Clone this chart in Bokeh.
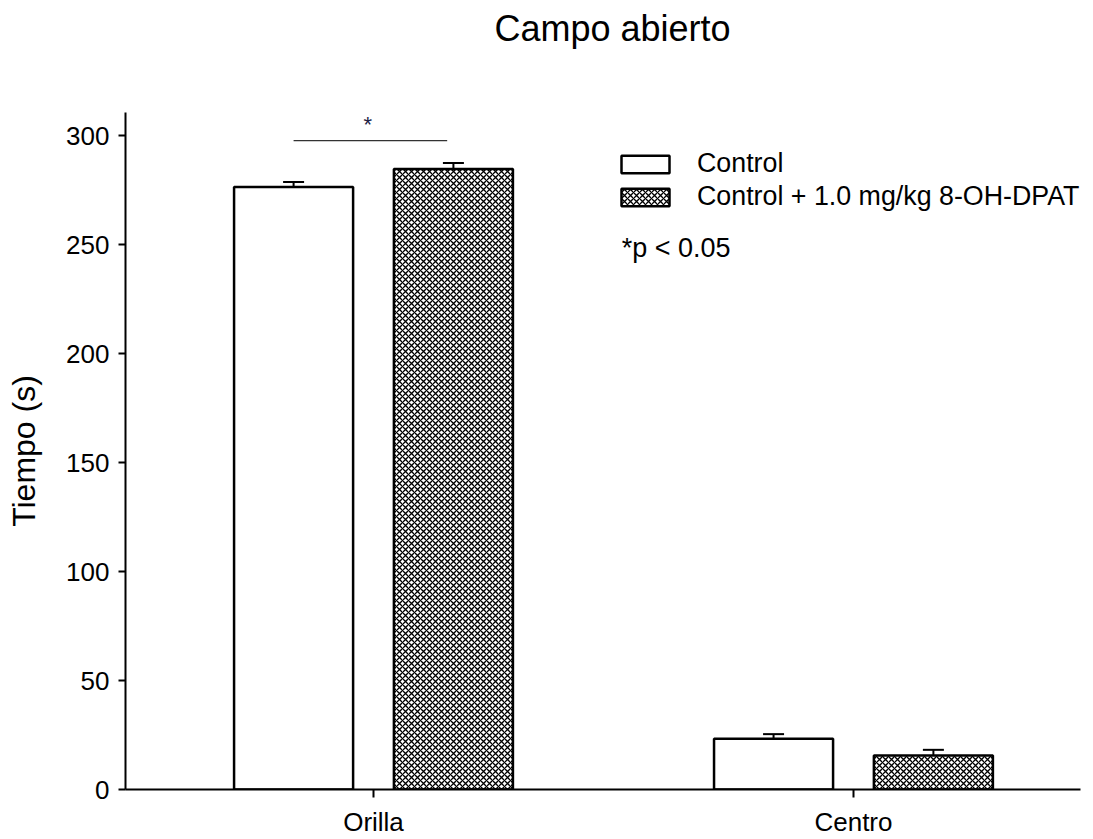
from bokeh.plotting import figure
from bokeh.models import (Range1d, FixedTicker, ColumnDataSource, Whisker, TeeHead,
                          Legend, LegendItem, Label, Title)
from bokeh.embed import file_html
from bokeh.resources import INLINE
from bokeh.core.properties import value

# ---- data ----
categories = ["Orilla", "Centro"]
control = [276.4, 23.3]
control_err = [2.3, 2.1]
treated = [284.7, 15.6]
treated_err = [2.7, 2.6]
series_names = ["Control", "Control + 1.0 mg/kg 8-OH-DPAT"]
y_ticks = [0, 50, 100, 150, 200, 250, 300]
sig_label = "*p < 0.05"
sig_y = 297.7

FONT = "Liberation Sans"
idx = list(range(len(categories)))
off = 0.1665
bw = 0.248

p = figure(width=1093, height=839, output_backend="svg", toolbar_location=None,
           x_range=Range1d(-0.5167, 1.473), y_range=Range1d(0, 310.6),
           min_border_left=125, min_border_right=13, min_border_bottom=50, min_border_top=0)
p.outline_line_color = None
p.grid.visible = False
p.background_fill_color = "white"
p.border_fill_color = "white"
p.title.text = ""
p.title.standoff = 0

# spacer between frame and title, then the title itself (farther from frame)
p.add_layout(Title(text=" ", text_font_size="1px", standoff=56), "above")
p.add_layout(Title(text="Campo abierto", align="left", text_font=FONT, text_font_size="36px",
                   text_font_style="normal", text_color="black", offset=369, standoff=10), "above")

xc = [i - off for i in idx]
xt = [i + off for i in idx]
src_c = ColumnDataSource(dict(x=xc, top=control, up=[v + e for v, e in zip(control, control_err)]))
src_t = ColumnDataSource(dict(x=xt, top=treated, up=[v + e for v, e in zip(treated, treated_err)]))

for src in (src_c, src_t):
    w = Whisker(base="x", lower="top", upper="up", source=src, line_color="black", line_width=2,
                upper_head=TeeHead(size=21, line_width=2, line_color="black"), lower_head=None)
    p.add_layout(w)

r1 = p.vbar(x="x", top="top", width=bw, bottom=0, source=src_c, fill_color="white",
            line_color="black", line_width=2.5)
r2 = p.vbar(x="x", top="top", width=bw, bottom=0, source=src_t, fill_color="white",
            line_color="black", line_width=2.5, hatch_pattern="diagonal_cross",
            hatch_color="black", hatch_scale=6, hatch_weight=1.3)

# significance bar
p.segment(x0=[idx[0] - off], x1=[idx[0] + 0.1535], y0=[sig_y], y1=[sig_y],
          line_color="#333333", line_width=1.3)
p.text(x=[idx[0] - 0.0119], y=[sig_y + 1.5], text=["*"], text_font=value(FONT),
       text_font_size="22px", text_align="center", text_baseline="bottom", text_color="#222244")

p.add_layout(Label(x=0.517, y=248.5, text=sig_label, text_font=FONT, text_font_size="27px",
                   text_baseline="middle", text_color="black"))

legend = Legend(items=[LegendItem(label=series_names[0], renderers=[r1]),
                       LegendItem(label=series_names[1], renderers=[r2])],
                location=(490, 577), glyph_width=60, glyph_height=22, label_height=22,
                spacing=2, padding=0, margin=0, label_standoff=22,
                label_text_font=FONT, label_text_font_size="26.8px", label_text_color="black",
                border_line_color=None, background_fill_alpha=0)
p.add_layout(legend)

# axes
p.yaxis.ticker = FixedTicker(ticks=y_ticks)
p.yaxis.axis_label = "Tiempo (s)"
p.yaxis.axis_label_text_font = FONT
p.yaxis.axis_label_text_font_size = "32px"
p.yaxis.axis_label_text_font_style = "normal"
p.yaxis.axis_label_text_color = "black"
p.yaxis.axis_label_standoff = 21
p.xaxis.ticker = FixedTicker(ticks=idx)
p.xaxis.major_label_overrides = {i: c for i, c in zip(idx, categories)}
for ax in (p.xaxis, p.yaxis):
    ax.major_label_text_font = FONT
    ax.major_label_text_font_size = "26px"
    ax.major_label_text_color = "black"
    ax.axis_line_color = "black"
    ax.axis_line_width = 2
    ax.major_tick_line_color = "black"
    ax.major_tick_line_width = 2
    ax.major_tick_in = 0
    ax.minor_tick_line_color = None
p.yaxis.major_tick_out = 7
p.xaxis.major_tick_out = 8
p.yaxis.major_label_standoff = 9
p.xaxis.major_label_standoff = 9

open("out.html", "w").write(file_html(p, INLINE))
